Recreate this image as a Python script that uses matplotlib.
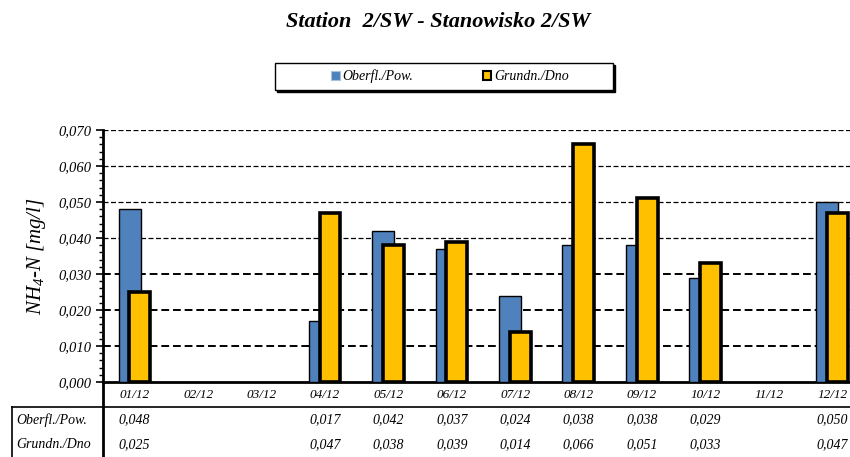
import numpy as np
import matplotlib
matplotlib.use('Agg')
import matplotlib.pyplot as plt
from matplotlib.patches import Rectangle, Patch
from matplotlib.lines import Line2D
from matplotlib.ticker import MultipleLocator, FuncFormatter
from matplotlib.transforms import blended_transform_factory

plt.rcParams['font.family'] = 'Liberation Serif'
plt.rcParams['font.style'] = 'italic'
plt.rcParams['mathtext.fontset'] = 'custom'
plt.rcParams['mathtext.it'] = 'Liberation Serif:italic'
plt.rcParams['mathtext.rm'] = 'Liberation Serif:italic'
plt.rcParams['mathtext.default'] = 'it'

months = ['01/12', '02/12', '03/12', '04/12', '05/12', '06/12',
          '07/12', '08/12', '09/12', '10/12', '11/12', '12/12']
pow_vals = [0.048, np.nan, np.nan, 0.017, 0.042, 0.037, 0.024, 0.038, 0.038, 0.029, np.nan, 0.050]
dno_vals = [0.025, np.nan, np.nan, 0.047, 0.038, 0.039, 0.014, 0.066, 0.051, 0.033, np.nan, 0.047]
series_names = ['Oberfl./Pow.', 'Grundn./Dno']

blue = '#4F81BD'
yellow = '#FFC000'

W, H = 850, 457
fig = plt.figure(figsize=(8.5, 4.57), dpi=100)
ax = fig.add_axes([103 / W, (H - 382) / H, 761 / W, 252 / H])

x = np.arange(len(months))
ax.bar(x - 0.08, pow_vals, width=0.35, color=blue, edgecolor='black', linewidth=1.0, zorder=3)
ax.bar(x + 0.08, dno_vals, width=0.33, color=yellow, edgecolor='black', linewidth=2.6, zorder=4)

ax.set_xlim(-0.5, 11.5)
ax.set_ylim(0, 0.070)
ax.yaxis.set_major_locator(MultipleLocator(0.010))
ax.yaxis.set_minor_locator(MultipleLocator(0.002))
ax.yaxis.set_major_formatter(FuncFormatter(lambda v, p: ('%.3f' % v).replace('.', ',')))
ax.tick_params(axis='y', which='major', length=5, width=1.2, labelsize=10.5, pad=3)
ax.tick_params(axis='y', which='minor', length=3, width=1.0)
ax.set_xticks(x)
ax.set_xticklabels(months, fontsize=9.5)
ax.tick_params(axis='x', length=0, pad=5)

# dashed gridlines, the lower ones a bit heavier like in the source
for v in np.arange(0.010, 0.0701, 0.010):
    lw = 1.4 if v < 0.035 else 0.9
    ax.axhline(v, color='black', linestyle=(0, (4, 2)), linewidth=lw, zorder=1)

for s in ['top', 'right']:
    ax.spines[s].set_visible(False)
ax.spines['left'].set_linewidth(2)
ax.spines['bottom'].set_linewidth(2)

ax.set_ylabel('NH$_4$-N [mg/l]', fontsize=15, labelpad=8)

fig.text(438 / W, 1 - 22 / H, 'Station  2/SW - Stanowisko 2/SW', ha='center', va='center',
         fontsize=16, fontweight='bold', style='italic')

# legend box with a thin black shadow
fig.patches.append(Rectangle((276.5 / W, 1 - 91.5 / H), 338 / W, 27 / H, transform=fig.transFigure,
                             facecolor='black', edgecolor='black', zorder=1))
fig.patches.append(Rectangle((275 / W, 1 - 90 / H), 338 / W, 27 / H, transform=fig.transFigure,
                             facecolor='white', edgecolor='black', linewidth=1.0, zorder=2))
handles = [Patch(facecolor=blue, edgecolor='#a8bfe0', linewidth=0.8),
           Patch(facecolor=yellow, edgecolor='black', linewidth=1.5)]
fig.legend(handles, series_names, loc='center', bbox_to_anchor=(450 / W, 1 - 76.5 / H), ncol=2,
           frameon=False, fontsize=10, handlelength=0.6, handleheight=0.7, handletextpad=0.2,
           columnspacing=5.0)

# data table below the axis
fig.add_artist(Line2D([12 / W, 1], [1 - 407 / H, 1 - 407 / H], color='black', linewidth=1.2,
                      transform=fig.transFigure))
fig.add_artist(Line2D([12 / W, 12 / W], [0, 1 - 407 / H], color='black', linewidth=1.2,
                      transform=fig.transFigure))
fig.add_artist(Line2D([103 / W, 103 / W], [0, 1 - 382 / H], color='black', linewidth=2,
                      transform=fig.transFigure))

tbl = blended_transform_factory(ax.transData, fig.transFigure)
row_y = [1 - 420 / H, 1 - 445 / H]
for name, vals, ry in zip(series_names, [pow_vals, dno_vals], row_y):
    fig.text(16 / W, ry, name, ha='left', va='center', fontsize=10)
    for i, v in enumerate(vals):
        if not np.isnan(v):
            ax.text(i, ry, ('%.3f' % v).replace('.', ','), ha='center', va='center',
                    fontsize=10, transform=tbl, clip_on=False)

fig.savefig('out.png', dpi=100)
